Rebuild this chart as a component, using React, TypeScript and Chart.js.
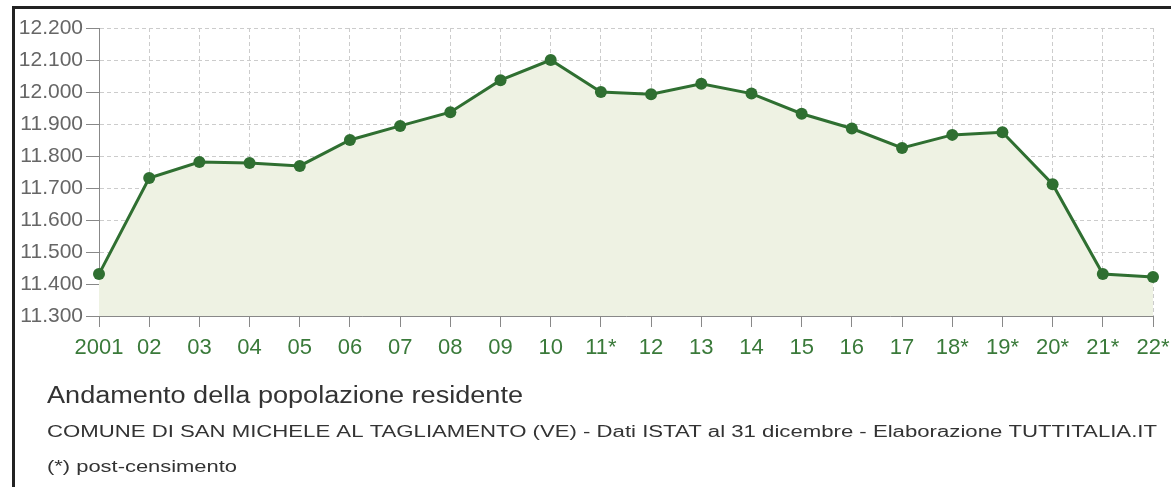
import React, { useEffect, useRef } from "react";
import { Chart, registerables } from "chart.js";

Chart.register(...registerables);

const categories = ["2001", "02", "03", "04", "05", "06", "07", "08", "09", "10", "11*", "12", "13", "14", "15", "16", "17", "18*", "19*", "20*", "21*", "22*"];
const population = [11431, 11731, 11781, 11778, 11769, 11850, 11894, 11937, 12037, 12100, 12000, 11993, 12026, 11995, 11932, 11886, 11825, 11866, 11874, 11712, 11431, 11422];
const yMin = 11300;
const yMax = 12200;
const yStep = 100;

const titleText = "Andamento della popolazione residente";
const subtitleText = "COMUNE DI SAN MICHELE AL TAGLIAMENTO (VE) - Dati ISTAT al 31 dicembre - Elaborazione TUTTITALIA.IT";
const noteText = "(*) post-censimento";

const FONT = "'Liberation Sans', Arial, Helvetica, sans-serif";

function fmt(v: number): string {
  const s = Math.round(v).toString();
  return s.replace(/\B(?=(\d{3})+(?!\d))/g, ".");
}

function drawStretched(ctx: CanvasRenderingContext2D, text: string, x: number, y: number, font: string, targetWidth: number) {
  ctx.save();
  ctx.font = font;
  const w = ctx.measureText(text).width;
  const sx = w > 0 ? targetWidth / w : 1;
  ctx.translate(x, y);
  ctx.scale(sx, 1);
  ctx.fillText(text, 0, 0);
  ctx.restore();
}

const textPlugin = {
  id: "captions",
  afterDraw(chart: any) {
    const ctx = chart.ctx;
    ctx.save();
    ctx.textBaseline = "middle";
    ctx.textAlign = "left";
    ctx.fillStyle = "#333333";
    drawStretched(ctx, titleText, 47, 397, `23px ${FONT}`, 476);
    drawStretched(ctx, subtitleText, 47, 433, `16px ${FONT}`, 1110);
    drawStretched(ctx, noteText, 47, 468, `16px ${FONT}`, 190);
    ctx.restore();
  },
};

export default function App() {
  const ref = useRef<HTMLCanvasElement>(null);
  useEffect(() => {
    if (!ref.current) return;
    const chart = new Chart(ref.current, {
      type: "line",
      data: {
        labels: categories,
        datasets: [
          {
            data: population,
            borderColor: "#2f6f31",
            backgroundColor: "#eef2e3",
            borderWidth: 3,
            fill: "start",
            pointRadius: 6,
            pointBackgroundColor: "#2f6f31",
            pointBorderColor: "#2f6f31",
            pointBorderWidth: 0,
            tension: 0,
          },
        ],
      },
      options: {
        animation: false,
        responsive: false,
        maintainAspectRatio: false,
        layout: { padding: { left: 0, top: 28, right: 18, bottom: 0 } },
        plugins: { legend: { display: false }, tooltip: { enabled: false }, title: { display: false } },
        scales: {
          x: {
            afterFit: (s: any) => {
              s.height = 171;
              s.paddingRight = 0;
              s.paddingLeft = 0;
            },
            grid: { color: "#cccccc", tickColor: "#888888", tickLength: 11, lineWidth: 1 },
            border: { color: "#888888", width: 1, dash: [4, 3] },
            ticks: { color: "#3a7a3a", font: { family: FONT, size: 22 }, padding: 8, maxRotation: 0, autoSkip: false },
          },
          y: {
            min: yMin,
            max: yMax,
            afterFit: (s: any) => {
              s.width = 99;
            },
            grid: { color: "#cccccc", tickColor: "#888888", tickLength: 13, lineWidth: 1 },
            border: { color: "#888888", width: 1, dash: [4, 3] },
            ticks: {
              stepSize: yStep,
              color: "#666666",
              font: { family: FONT, size: 21 },
              padding: 3,
              callback: (v: any) => fmt(Number(v)),
            },
          },
        },
      },
      plugins: [textPlugin],
    });
    return () => chart.destroy();
  }, []);
  return (
    <div style={{ position: "absolute", left: 0, top: 0, width: 1171, height: 487, background: "#fff", overflow: "hidden" }}>
      <canvas ref={ref} width={1171} height={487} style={{ position: "absolute", left: 0, top: 0 }} />
      <div style={{ position: "absolute", left: 12, top: 6, width: 1200, height: 600, borderTop: "3px solid #222", borderLeft: "3px solid #222", pointerEvents: "none" }} />
    </div>
  );
}
